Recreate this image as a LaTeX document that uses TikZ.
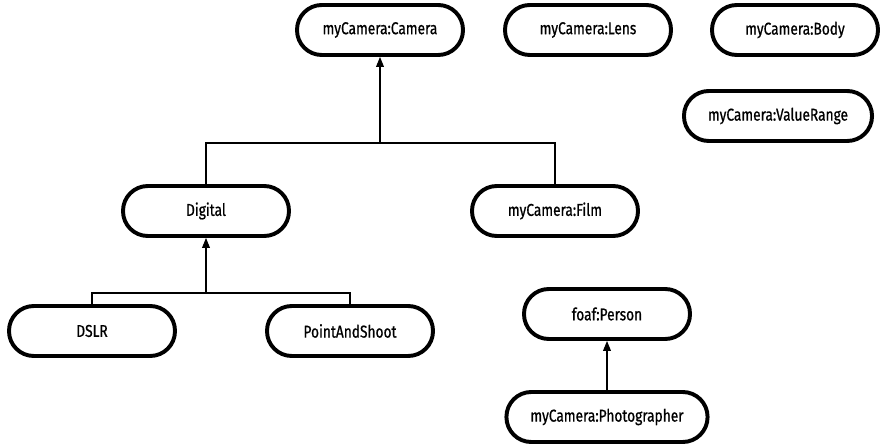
\documentclass[tikz,border=0pt]{standalone}
\usepackage{fontspec}
\setmainfont[FakeStretch=0.8,FakeBold=0.8]{Fira Sans}
\usetikzlibrary{arrows.meta}
\tikzset{
  class/.style={draw, line width=2.8pt, rounded corners=0.62cm, minimum width=4.15cm,
    minimum height=1.25cm, inner xsep=0.6cm, font=\fontsize{12.2}{14}\selectfont},
  isa/.style={line width=0.75pt, -{Triangle[width=5.5pt,length=7pt]}}
}
\begin{document}
\begin{tikzpicture}
  \useasboundingbox (0,0) rectangle (22.075,-11.15);
  \node[class] (camera) at (9.5,-0.75) {myCamera:Camera};
  \node[class] (lens) at (14.7,-0.75) {myCamera:Lens};
  \node[class] (body) at (19.875,-0.75) {myCamera:Body};
  \node[class] (range) at (19.45,-2.9) {myCamera:ValueRange};
  \node[class] (digital) at (5.15,-5.275) {Digital};
  \node[class] (film) at (13.875,-5.275) {myCamera:Film};
  \node[class] (dslr) at (2.3,-8.275) {DSLR};
  \node[class] (pas) at (8.75,-8.275) {PointAndShoot};
  \node[class] (person) at (15.175,-7.85) {foaf:Person};
  \node[class] (photog) at (15.175,-10.425) {myCamera:Photographer};
  % subclass joins
  \coordinate (camjoin) at (9.5,-3.575);
  \coordinate (digjoin) at (5.15,-7.325);
  \draw[isa] (camjoin) -- (camera);
  \draw[line width=0.75pt] (digital) |- (camjoin) -| (film);
  \draw[isa] (digjoin) -- (digital);
  \draw[line width=0.75pt] (dslr) |- (digjoin) -| (pas);
  \draw[isa] (photog) -- (person);
\end{tikzpicture}
\end{document}
